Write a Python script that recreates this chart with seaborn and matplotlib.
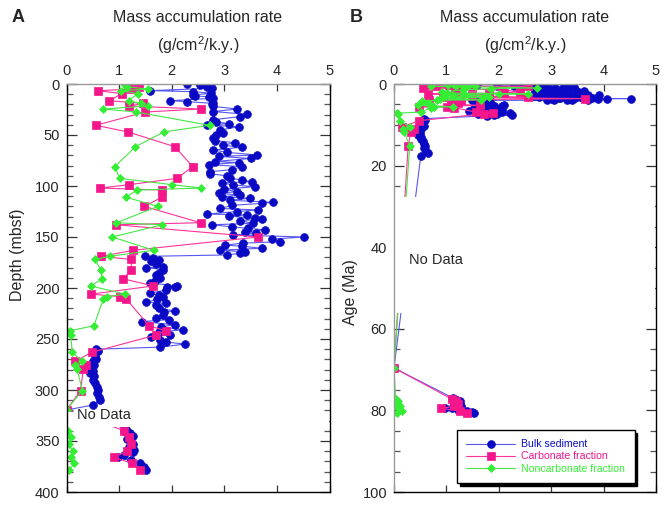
import matplotlib
matplotlib.use("Agg")
import matplotlib.pyplot as plt
import seaborn as sns
from matplotlib.patches import Rectangle
from matplotlib.ticker import MultipleLocator

# ---------------- data ----------------
series_names = ["Bulk sediment", "Carbonate fraction", "Noncarbonate fraction"]

bulk_depth = [0, 1, 2.6, 4.2, 6.5, 7.5, 9, 10.8, 11.8, 12.4, 14, 16.4, 17.3, 19, 20, 22, 24.5, 27,
              29.7, 32, 35, 37, 39, 40, 42, 45, 48, 50, 53, 55.5, 57.5, 60, 62, 64.7, 67, 69.6, 71,
              73, 76, 77, 79, 81, 84, 86, 88, 90, 92.5, 94, 95.8, 97, 99, 100.7, 103, 105.6, 107,
              109, 110.5, 112, 114, 116, 117, 119, 122, 123.5, 125, 127.5, 128.4, 129.4, 131.7,
              132.4, 134, 136.6, 138, 140, 141.5, 143, 145, 146.5, 148, 150, 152, 154.6, 156, 158,
              159, 161, 163, 164.5, 166, 167.6, 169, 171, 172.5, 174, 176, 179, 180, 182, 185.6,
              187, 190.5, 193, 195, 198, 198.7, 199.5, 202, 205, 207, 208.5, 211, 214, 215, 217,
              220, 222.5, 224, 226.5, 229, 231, 233, 236, 238, 241, 243, 246, 248, 251, 253, 255,
              258, 260, 262, 264, 267, 270, 272, 275, 278, 281, 283.6, 286, 290, 293, 297, 300,
              303, 306.5, 310, 314.7, 319.6, 338, 340, 342, 345, 348, 351, 353, 356, 359, 361,
              364, 366, 369, 372, 375, 378]
bulk_rate = [2.30, 2.54, 2.67, 2.76, 1.59, 2.41, 2.75, 2.41, 2.44, 2.70, 2.78, 1.97, 2.29, 2.79,
             2.76, 2.79, 3.25, 2.79, 3.43, 3.30, 2.79, 2.85, 3.08, 2.67, 3.27, 2.92, 2.98, 2.85,
             2.79, 2.82, 3.20, 2.98, 3.33, 2.79, 3.05, 3.62, 2.89, 3.50, 2.82, 3.27, 2.70, 3.33,
             3.14, 2.72, 2.73, 3.05, 3.11, 3.33, 3.52, 2.95, 3.17, 3.58, 3.00, 3.24, 2.89, 3.30,
             2.95, 3.49, 3.10, 3.92, 3.71, 3.15, 2.92, 3.65, 3.25, 2.67, 3.43, 3.08, 3.58, 3.71,
             3.30, 3.55, 2.76, 3.14, 3.45, 3.77, 3.40, 3.60, 3.17, 4.52, 3.90, 4.06, 3.35, 3.01,
             3.33, 3.71, 2.92, 3.40, 3.30, 3.05, 1.49, 1.65, 1.75, 1.60, 1.71, 1.84, 1.52, 1.84,
             1.75, 1.71, 1.78, 1.68, 1.59, 2.10, 2.06, 1.91, 1.90, 1.59, 1.75, 1.84, 1.72, 1.52,
             1.90, 1.70, 1.75, 2.06, 1.85, 1.84, 1.70, 1.94, 1.43, 2.06, 1.80, 2.22, 1.75, 1.97,
             1.60, 1.78, 1.90, 2.25, 1.78, 0.57, 0.60, 0.52, 0.54, 0.57, 0.50, 0.52, 0.47, 0.50,
             0.45, 0.52, 0.51, 0.55, 0.58, 0.60, 0.58, 0.61, 0.64, 0.51, 0.0, 1.13, 1.10, 1.20,
             1.26, 1.15, 1.22, 1.26, 1.18, 1.28, 1.27, 1.10, 0.98, 1.22, 1.40, 1.48, 1.52]
bulk_age = [0.0, 0.02, 0.06, 0.10, 0.15, 0.18, 0.21, 0.26, 0.28, 0.30, 0.33, 0.39, 0.41, 0.45,
            0.48, 0.52, 0.58, 0.64, 0.71, 0.76, 0.83, 0.88, 0.93, 0.95, 1.0, 1.07, 1.14, 1.19,
            1.26, 1.32, 1.37, 1.43, 1.48, 1.54, 1.60, 1.66, 1.69, 1.74, 1.81, 1.83, 1.88, 1.93,
            2.0, 2.05, 2.10, 2.14, 2.20, 2.24, 2.28, 2.31, 2.36, 2.40, 2.45, 2.51, 2.55, 2.60,
            2.63, 2.67, 2.71, 2.76, 2.79, 2.83, 2.90, 2.94, 2.98, 3.04, 3.06, 3.08, 3.14, 3.15,
            3.19, 3.25, 3.29, 3.33, 3.37, 3.40, 3.45, 3.49, 3.52, 3.57, 3.62, 3.68, 3.71, 3.76,
            3.79, 3.83, 3.88, 3.92, 3.95, 3.99, 4.0, 4.09, 4.15, 4.21, 4.30, 4.43, 4.47, 4.56,
            4.71, 4.77, 4.92, 5.02, 5.11, 5.24, 5.27, 5.30, 5.41, 5.54, 5.62, 5.69, 5.79, 5.92,
            5.96, 6.05, 6.18, 6.28, 6.35, 6.46, 6.56, 6.65, 6.73, 6.86, 6.95, 7.07, 7.16, 7.29,
            7.37, 7.50, 7.59, 7.67, 7.80, 8.5, 8.84, 9.18, 9.68, 10.19, 10.53, 11.04, 11.54,
            12.05, 12.49, 12.89, 13.57, 14.08, 14.75, 15.26, 15.77, 16.36, 16.95, 17.74, 69.6,
            77.0, 77.2, 77.4, 77.6, 77.9, 78.2, 78.4, 78.6, 78.9, 79.1, 79.3, 79.5, 79.8, 80.1,
            80.3, 80.6]

frac_depth = [1, 2.6, 5, 6.6, 9.4, 16.4, 19, 21.6, 24.5, 27.5, 40.5, 47, 61.5, 81, 92.5, 98.7,
              102, 104, 111, 120, 136, 138, 150, 163, 169, 172, 182, 191, 198, 206, 208.5, 211,
              237, 242, 246, 263, 272, 275, 279, 300.5, 319.5, 340, 346, 353, 360, 366, 372, 378]
carb_rate = [1.17, 1.38, 1.23, 0.60, 1.05, 0.81, 1.46, 1.19, 2.55, 1.49, 0.56, 1.17, 2.06, 2.40,
             2.10, 1.19, 0.64, 1.82, 1.81, 1.48, 2.55, 0.94, 3.65, 1.27, 0.66, 1.23, 1.23, 1.08,
             1.65, 0.47, 1.02, 1.14, 1.57, 1.89, 1.71, 0.48, 0.16, 0.38, 0.32, 0.27, 0.0, 1.10,
             1.18, 1.22, 1.15, 0.90, 1.25, 1.40]
noncarb_rate = [1.12, 1.15, 1.55, 1.04, 1.36, 1.18, 1.41, 1.55, 0.70, 1.33, 2.72, 1.85, 1.31,
                0.92, 1.01, 2.01, 2.56, 1.34, 1.13, 1.74, 0.95, 1.82, 0.87, 1.66, 0.82, 0.54, 0.65,
                0.68, 0.46, 1.12, 0.77, 0.70, 0.52, 0.06, 0.08, 0.11, 0.30, 0.17, 0.20, 0.30, 0.0,
                0.03, 0.08, 0.04, 0.12, 0.08, 0.15, 0.05]
frac_age = [0.02, 0.06, 0.12, 0.16, 0.22, 0.39, 0.45, 0.51, 0.58, 0.65, 0.96, 1.12, 1.46, 1.93,
            2.20, 2.35, 2.43, 2.48, 2.64, 2.86, 3.24, 3.29, 3.57, 3.88, 4.0, 4.13, 4.56, 4.94,
            5.24, 5.58, 5.69, 5.79, 6.90, 7.12, 7.29, 9.0, 10.5, 11.0, 11.7, 15.3, 69.6, 77.2,
            77.7, 78.4, 79.0, 79.5, 80.1, 80.6]

# ---------------- style ----------------
sns.set_style("ticks")
plt.rcParams["font.family"] = ["Liberation Sans", "DejaVu Sans"]
plt.rcParams["mathtext.fontset"] = "custom"
plt.rcParams["mathtext.rm"] = "Liberation Sans"
plt.rcParams["mathtext.default"] = "regular"

styles = [
    dict(color="#5656f2", marker="o", markersize=5.6, markerfacecolor="#0a0ac4",
         markeredgecolor="#0a0ac4", markeredgewidth=0.5, linewidth=0.8),
    dict(color="#ff3399", marker="s", markersize=5.2, markerfacecolor="#f5168c",
         markeredgecolor="#f5168c", markeredgewidth=0.5, linewidth=0.8),
    dict(color="#45e845", marker="D", markersize=3.6, markerfacecolor="#33ee33",
         markeredgecolor="#33ee33", markeredgewidth=0.5, linewidth=0.8),
]
text_colors = ["#0a0ac4", "#f5168c", "#33ee33"]

fig = plt.figure(figsize=(6.66, 5.07), dpi=100)
axA = fig.add_axes([66.5 / 666, 1 - 492 / 507, 263 / 666, 408 / 507])
axB = fig.add_axes([394 / 666, 1 - 492 / 507, 262 / 666, 408 / 507])


def draw(ax, ybulk, yfrac, legend):
    xs_list = [bulk_rate, carb_rate, noncarb_rate]
    ys_list = [ybulk, yfrac, yfrac]
    for name, xs, ys, st in zip(series_names, xs_list, ys_list, styles):
        sns.lineplot(x=xs, y=ys, sort=False, estimator=None, ax=ax,
                     label=name if legend else None, legend=legend, **st)


draw(axA, bulk_depth, frac_depth, False)
draw(axB, bulk_age, frac_age, True)

for ax, ymax, major, minor in [(axA, 400, 50, 10), (axB, 100, 20, 5)]:
    ax.set_xlim(0, 5)
    ax.set_ylim(ymax, 0)
    ax.xaxis.set_major_locator(MultipleLocator(1))
    ax.yaxis.set_major_locator(MultipleLocator(major))
    ax.yaxis.set_minor_locator(MultipleLocator(minor))
    ax.xaxis.tick_top()
    ax.tick_params(axis="x", which="both", direction="in", top=True, bottom=True,
                   labeltop=True, labelbottom=False, length=5, width=0.9, pad=4,
                   labelsize=10.5, color="#333333")
    ax.tick_params(axis="y", which="major", direction="in", left=True, right=True,
                   length=7, width=0.9, pad=5, labelsize=10.5, color="#333333")
    ax.tick_params(axis="y", which="minor", direction="in", left=True, right=True,
                   length=4, width=0.9, color="#555555")
    ax.set_xlabel("")
    ax.set_ylabel("")
    for side in ["left", "right", "bottom", "top"]:
        ax.spines[side].set_visible(True)
        ax.spines[side].set_linewidth(1.0)
        ax.spines[side].set_color("black")
    ax.spines["top"].set_color("#999999")

axB.spines["left"].set_color("#9a9a9a")

# "No Data" gaps
axA.add_patch(Rectangle((0.03, 321.5), 4.96, 14.5, facecolor="white", edgecolor="none",
                        zorder=2.3))
axB.add_patch(Rectangle((0.02, 27.6), 4.97, 28.6, facecolor="white", edgecolor="none",
                        zorder=2.3))
axA.text(0.2, 324.5, "No Data", fontsize=10.5, ha="left", va="center", zorder=3)
axB.text(0.29, 43.2, "No Data", fontsize=10.5, ha="left", va="center", zorder=3)

# legend
leg = axB.legend(loc="lower left", bbox_to_anchor=(0.24, 0.022), borderaxespad=0,
                 frameon=True, fancybox=False, edgecolor="black", framealpha=1,
                 shadow={"color": "black", "alpha": 1}, fontsize=7.6, handlelength=4.6,
                 borderpad=0.9, labelspacing=0.2, handletextpad=0.6)
leg.get_frame().set_linewidth(1.0)
for t, c in zip(leg.get_texts(), text_colors):
    t.set_color(c)

# titles and labels
for cx, letter, lx in [(198, "A", 18), (525, "B", 356)]:
    fig.text(lx / 666, 1 - 18 / 507, letter, fontsize=13, fontweight="bold",
             ha="center", va="center")
    fig.text(cx / 666, 1 - 18 / 507, "Mass accumulation rate", fontsize=11.5,
             ha="center", va="center")
    fig.text(cx / 666, 1 - 45 / 507, "(g/cm$^2$/k.y.)", fontsize=11.5,
             ha="center", va="center")

fig.text(18 / 666, 1 - 255 / 507, "Depth (mbsf)", fontsize=11.5, rotation=90,
         ha="center", va="center")
fig.text(351 / 666, 1 - 292 / 507, "Age (Ma)", fontsize=11.5, rotation=90,
         ha="center", va="center")

fig.savefig("out.png", dpi=100)
